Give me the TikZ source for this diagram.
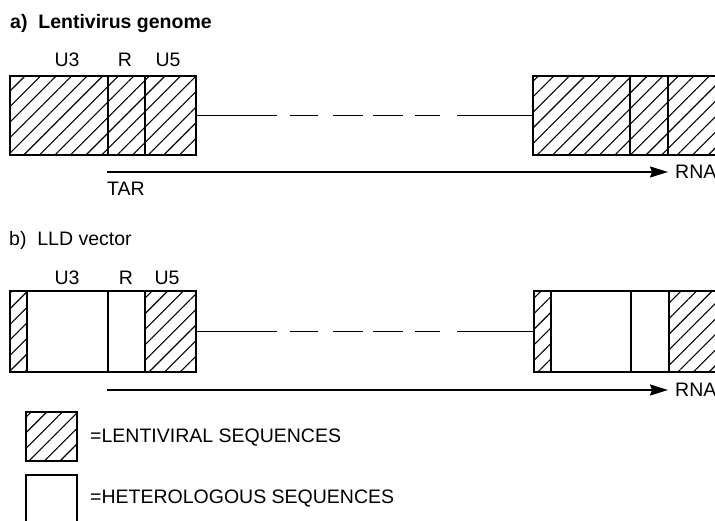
\documentclass[tikz,border=0pt]{standalone}
\usepackage{fontspec}
\setmainfont{Liberation Sans}
\usetikzlibrary{arrows.meta}
\usetikzlibrary{patterns.meta}
\usetikzlibrary{positioning}

\tikzset{
  seg/.style={draw, line width=2pt, inner sep=0pt, outer sep=0pt, anchor=north west},
  rowa/.style={seg, minimum height=79pt},
  rowb/.style={seg, minimum height=81pt},
  lenti/.style={pattern={Lines[angle=45,distance=11pt,line width=1.1pt]}},
  lbl/.style={inner sep=0pt, font=\fontsize{19.5pt}{23pt}\selectfont},
  backbone/.style={line width=1.8pt, dash pattern=on 81pt off 13pt on 28pt off 15pt on 30pt off 10pt on 30pt off 12pt on 25pt off 17pt on 80pt},
  rnaarrow/.style={line width=1.8pt, -{Stealth[length=18pt,width=11pt,inset=2pt]}}
}

\begin{document}
\begin{tikzpicture}[x=1pt,y=-1pt]
\clip (0,0) rectangle (715,521);

\node[lbl, anchor=base west, font=\fontsize{19.5pt}{23pt}\selectfont\bfseries] (titlea) at (10,29) {a)\ \ Lentivirus genome};

\node[lbl] (labu3a) at (67,60) {U3};
\node[lbl] (labra) at (125,60) {R};
\node[lbl] (labu5a) at (168,60) {U5};

\node[rowa, lenti, minimum width=98pt] (u3a) at (10,76) {};
\node[rowa, lenti, minimum width=37pt, right=0pt of u3a] (ra) {};
\node[rowa, lenti, minimum width=51pt, right=0pt of ra] (u5a) {};

\node[rowa, lenti, minimum width=97pt] (u3ra) at (533,76) {};
\node[rowa, lenti, minimum width=38pt, right=0pt of u3ra] (rra) {};
\node[rowa, lenti, minimum width=72pt, right=0pt of rra] (u5ra) {};

\draw[backbone] (u5a.east) -- (u3ra.west);

\coordinate (tara) at (107,172);
\node[lbl, anchor=west, inner xsep=7pt] (rnaa) at (668,172) {RNA};
\draw[rnaarrow] (tara) -- (tara -| rnaa.west);
\node[lbl, anchor=base west] (tar) at (107,196) {TAR};


\node[lbl, anchor=base west] (titleb) at (9,246) {b)\ \ LLD vector};

\node[lbl] (labu3b) at (67,278) {U3};
\node[lbl] (labrb) at (126,278) {R};
\node[lbl] (labu5b) at (167,278) {U5};

\node[rowb, lenti, minimum width=17pt] (ltrb) at (10,291) {};
\node[rowb, minimum width=81pt, right=0pt of ltrb] (u3b) {};
\node[rowb, minimum width=37pt, right=0pt of u3b] (rb) {};
\node[rowb, lenti, minimum width=51pt, right=0pt of rb] (u5b) {};

\node[rowb, lenti, minimum width=17pt] (ltrrb) at (534,291) {};
\node[rowb, minimum width=80pt, right=0pt of ltrrb] (u3rb) {};
\node[rowb, minimum width=38pt, right=0pt of u3rb] (rrb) {};
\node[rowb, lenti, minimum width=72pt, right=0pt of rrb] (u5rb) {};

\draw[backbone] (u5b.east) -- (ltrrb.west);

\coordinate (tarb) at (107,390);
\node[lbl, anchor=west, inner xsep=7pt] (rnab) at (668,390) {RNA};
\draw[rnaarrow] (tarb) -- (tarb -| rnab.west);


\node[seg, lenti, minimum width=51pt, minimum height=49pt] (keyl) at (26,412) {};
\node[lbl, anchor=base west] (keyltext) at (90,442) {=LENTIVIRAL SEQUENCES};
\node[seg, minimum width=51pt, minimum height=70pt] (keyh) at (26,475) {};
\node[lbl, anchor=base west] (keyhtext) at (90,503) {=HETEROLOGOUS SEQUENCES};

\end{tikzpicture}
\end{document}
